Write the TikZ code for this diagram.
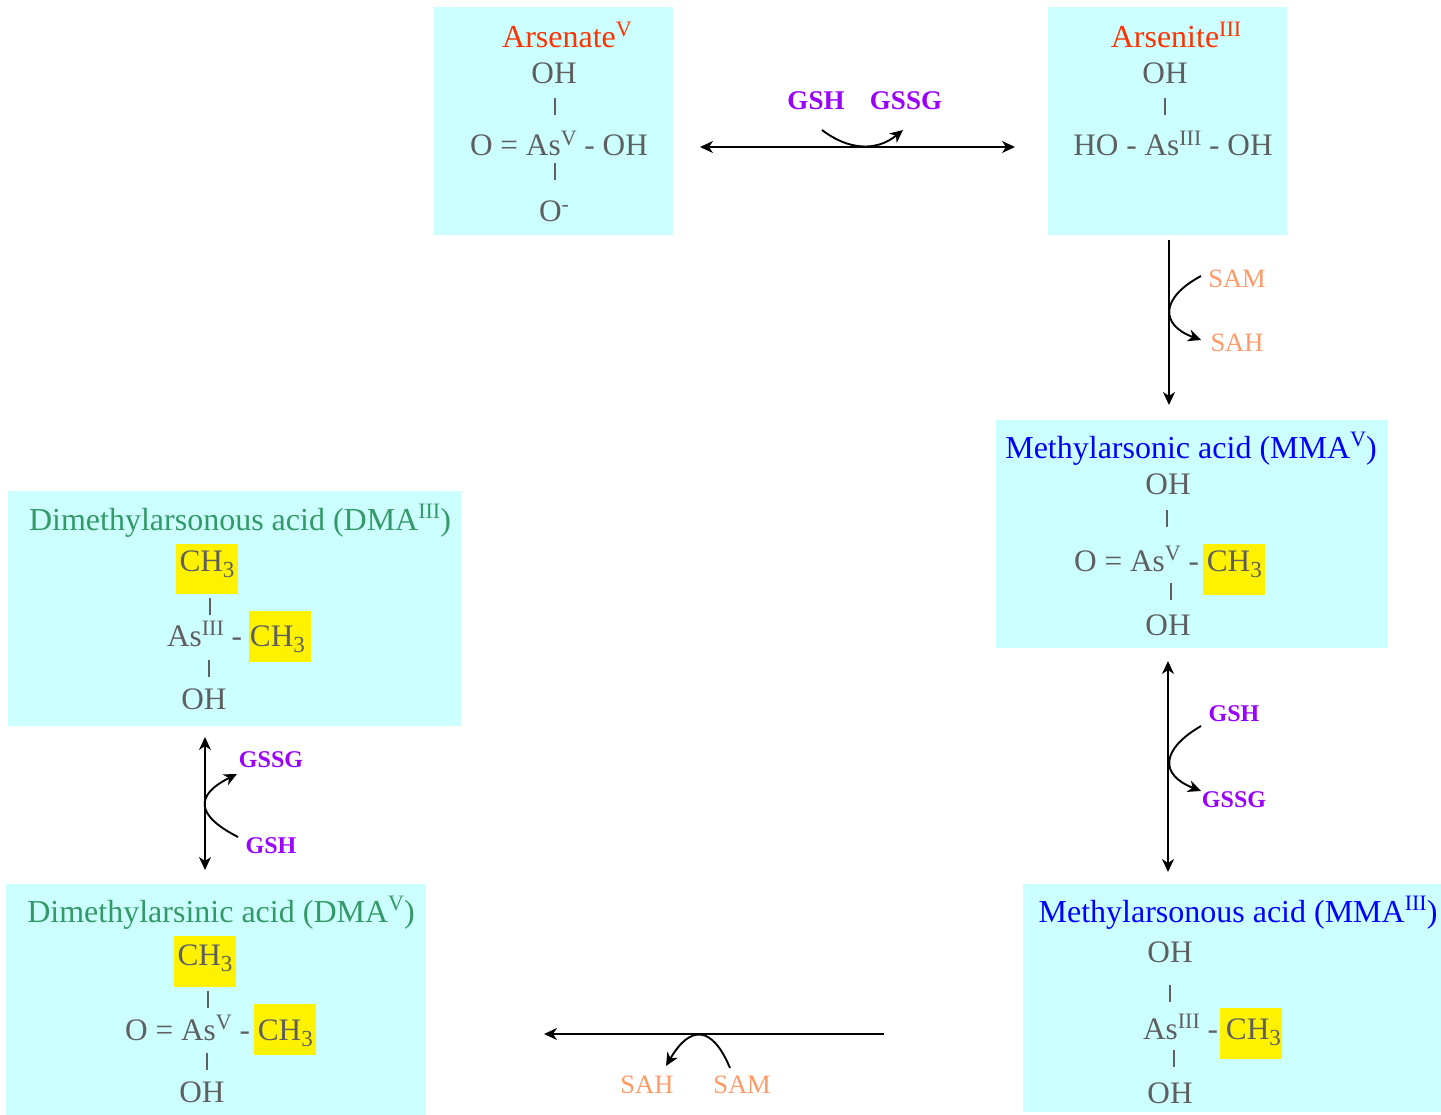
\documentclass[tikz,border=0pt]{standalone}
\usepackage{fontspec}
\setmainfont{Liberation Serif}
\usetikzlibrary{arrows.meta}
\tikzset{
  chem/.style={text=chemgray,font=\fontsize{31.3}{31.3}\selectfont,inner sep=0pt,anchor=base},
  red/.style={chem,text=arsred,font=\fontsize{32}{32}\selectfont},
  blu/.style={chem,text=blue,font=\fontsize{32}{32}\selectfont},
  grn/.style={chem,text=dmgreen,font=\fontsize{32}{32}\selectfont},
  gsh/.style={inner sep=0pt,anchor=base,text=gshpurple,font=\fontsize{24}{24}\selectfont\bfseries},
  gshbig/.style={gsh,font=\fontsize{27}{27}\selectfont\bfseries},
  sam/.style={inner sep=0pt,anchor=base,text=samorange,font=\fontsize{26.5}{26.5}\selectfont},
  bond/.style={draw=chemgray,line width=1.5pt},
  rxn/.style={draw=black,line width=1.9pt,{Stealth[length=13pt,width=12pt,inset=4pt]}-{Stealth[length=13pt,width=12pt,inset=4pt]}},
  rxnone/.style={draw=black,line width=1.9pt,-{Stealth[length=13pt,width=12pt,inset=4pt]}},
}
\definecolor{boxcyan}{RGB}{204,255,255}
\definecolor{chemgray}{RGB}{95,95,95}
\definecolor{arsred}{RGB}{255,51,0}
\definecolor{dmgreen}{RGB}{51,153,102}
\definecolor{gshpurple}{RGB}{153,0,255}
\definecolor{samorange}{RGB}{255,153,102}
\newcommand{\up}[1]{\raisebox{0.35em}{\fontsize{22}{22}\selectfont #1}}
\newcommand{\dn}[1]{\raisebox{-0.22em}{\fontsize{23}{23}\selectfont #1}}
\begin{document}
\begin{tikzpicture}[x=1pt,y=-1pt]
\useasboundingbox (0,0) rectangle (1441,1115);
% panels
\fill[boxcyan] (434,7) rectangle (673,235);
\fill[boxcyan] (1048,7) rectangle (1287,235);
\fill[boxcyan] (996,420) rectangle (1388,648);
\fill[boxcyan] (8,491) rectangle (461,726);
\fill[boxcyan] (6,884) rectangle (426,1115);
\fill[boxcyan] (1023,884) rectangle (1441,1112);
% highlights
\fill[yellow] (176,544) rectangle (238,594);
\fill[yellow] (249,611) rectangle (311,662);
\fill[yellow] (174,936) rectangle (236,987);
\fill[yellow] (254,1004) rectangle (316,1055);
\fill[yellow] (1203,544) rectangle (1265,595);
\fill[yellow] (1220,1008) rectangle (1282,1059);
% Arsenate
\node[red] (t1) at (567,48) {Arsenate\up{V}};
\node[chem] (a1) at (554,84) {OH};
\node[chem] (a2) at (559,156) {O = As\up{V} - OH};
\node[chem] (a3) at (554,222) {O\up{-}};
\draw[bond] (555,98) -- (555,115);
\draw[bond] (555,163) -- (555,180);
% Arsenite
\node[red] (t2) at (1176,48) {Arsenite\up{III}};
\node[chem] (b1) at (1165,84) {OH};
\node[chem] (b2) at (1173,156) {HO - As\up{III} - OH};
\draw[bond] (1165,98) -- (1165,115);
% MMA V
\node[blu] (t3) at (1191,458) {Methylarsonic acid (MMA\up{V})};
\node[chem] (c1) at (1168,494) {OH};
\node[chem] (c2) at (1168,571) {O = As\up{V} - CH\dn{3}};
\node[chem] (c3) at (1168,635) {OH};
\draw[bond] (1167,510) -- (1167,527);
\draw[bond] (1171,583) -- (1171,600);
% MMA III
\node[blu] (t4) at (1238,922) {Methylarsonous acid (MMA\up{III})};
\node[chem] (d1) at (1170,962) {OH};
\node[chem] (d2) at (1212,1039) {As\up{III} - CH\dn{3}};
\node[chem] (d3) at (1170,1103) {OH};
\draw[bond] (1170,985) -- (1170,1002);
\draw[bond] (1174,1050) -- (1174,1067);
% DMA V
\node[grn] (t5) at (221,922) {Dimethylarsinic acid (DMA\up{V})};
\node[chem] (e1) at (205,965) {CH\dn{3}};
\node[chem] (e2) at (219,1040) {O = As\up{V} - CH\dn{3}};
\node[chem] (e3) at (202,1102) {OH};
\draw[bond] (208,991) -- (208,1008);
\draw[bond] (207,1053) -- (207,1070);
% DMA III
\node[grn] (t6) at (240,530) {Dimethylarsonous acid (DMA\up{III})};
\node[chem] (f1) at (207,571) {CH\dn{3}};
\node[chem] (f2) at (236,646) {As\up{III} - CH\dn{3}};
\node[chem] (f3) at (204,709) {OH};
\draw[bond] (210,598) -- (210,615);
\draw[bond] (209,660) -- (209,677);
% main connectors
\coordinate (p1) at (700,147); \coordinate (p2) at (1015,147);
\coordinate (p3) at (1169,240); \coordinate (p4) at (1169,405);
\coordinate (p5) at (1168,661); \coordinate (p6) at (1168,872);
\coordinate (p7) at (884,1034); \coordinate (p8) at (544,1034);
\coordinate (p9) at (205,737); \coordinate (p10) at (205,870);
\draw[rxn] (p1) -- (p2);
\draw[rxnone] (p3) -- (p4);
\draw[rxn] (p5) -- (p6);
\draw[rxnone] (p7) -- (p8);
\draw[rxn] (p9) -- (p10);
% labels
\node[gshbig] (g1) at (816,110) {GSH};
\node[gshbig] (g2) at (906,110) {GSSG};
\node[sam] (s1) at (1237,288) {SAM};
\node[sam] (s2) at (1237,352) {SAH};
\node[gsh] (g3) at (1234,721) {GSH};
\node[gsh] (g4) at (1234,807) {GSSG};
\node[sam] (s3) at (647,1093) {SAH};
\node[sam] (s4) at (742,1093) {SAM};
\node[gsh] (g5) at (271,767) {GSSG};
\node[gsh] (g6) at (271,853) {GSH};
% side arcs
\coordinate (q1) at (822,130); \coordinate (q2) at (903,130);
\draw[rxnone] (q1) .. controls (848,150) and (876,152) .. (q2);
\coordinate (q3) at (1201,276); \coordinate (q4) at (1201,340);
\draw[rxnone] (q3) .. controls (1160,298) and (1160,325) .. (q4);
\coordinate (q5) at (1201,726); \coordinate (q6) at (1201,791);
\draw[rxnone] (q5) .. controls (1160,750) and (1160,775) .. (q6);
\coordinate (q7) at (730,1068); \coordinate (q8) at (666,1066);
\draw[rxnone] (q7) .. controls (712,1025) and (690,1025) .. (q8);
\coordinate (q9) at (238,837); \coordinate (q10) at (237,774);
\draw[rxnone] (q9) .. controls (195,815) and (195,795) .. (q10);
\end{tikzpicture}
\end{document}
